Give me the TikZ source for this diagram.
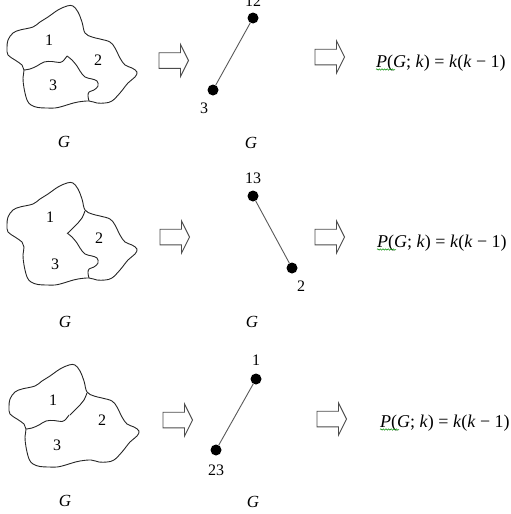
\documentclass[tikz,border=0pt]{standalone}
\usepackage{fontspec}
\setmainfont{Liberation Serif}
\usetikzlibrary{decorations.pathmorphing}

% Outline of the map and its three inner borders, in local coordinates
\newcommand\mapborder{%
  \draw[outline] plot[smooth cycle, tension=0.6] coordinates {
    (24,70) (23,78) (24,88) (27,100) (31,105) (38,107.5) (47,108) (55,108)
    (62,106.5) (70,104) (78,102) (89,101) (97,103) (105,103) (112,101)
    (120,93) (128,83) (135,77) (137,72) (132,68) (125,65) (120,58)
    (115,48) (110,42) (100,39) (92,37) (85,33) (82,22) (78,12) (73,6)
    (67,6) (58,10) (48,17) (40,22) (33,27) (20,30) (13,33) (8,40) (7,48)
    (8,55) (15,60) (22,65)};}
\newcommand\borderonethree{%
  \draw[outline] plot[smooth, tension=0.6] coordinates {
    (24,70) (30,69) (37,66) (44,62) (52,61.5) (60,62.5) (64,60) (67,56)};}
\newcommand\borderthreetwo{%
  \draw[outline] plot[smooth, tension=0.6] coordinates {
    (67,56) (72,60) (77,66) (80,71) (85,77) (92,79) (97,81) (98,86)
    (94,90) (89,92) (88,96) (89,101)};}
\newcommand\borderonetwo{%
  \draw[outline] plot[smooth, tension=0.6] coordinates {
    (85,34) (82,41) (78,46) (73,51) (68,56)};}

\begin{document}
\begin{tikzpicture}[x=1pt,y=-1pt,
  outline/.style={draw=black!85, line width=0.9pt, line join=round},
  vertex/.style={circle, fill=black, inner sep=0pt, minimum size=11pt},
  numtext/.style={font=\fontsize{16}{16}\selectfont, inner sep=0pt},
  glabel/.style={font=\fontsize{17}{17}\selectfont\itshape, inner sep=0pt},
  formula/.style={font=\fontsize{18}{18}\selectfont, inner sep=0pt, anchor=base west},
  edge/.style={draw=black!65, line width=0.9pt},
  blockarrow/.style={draw=black!70, line width=0.9pt, fill=white, line join=miter},
  squiggle/.style={draw=green!55!black, line width=0.5pt, decorate,
    decoration={snake, amplitude=0.7pt, segment length=2.6pt}},
  pics/blockarrow/.style={code={
    \draw[blockarrow] (0,-7.8) -- (21.5,-7.8) -- (21.5,-16) -- (29.5,0)
      -- (21.5,16) -- (21.5,7.8) -- (0,7.8) -- cycle;}},
]
\useasboundingbox (0,0) rectangle (511,514);

% ---------- first row: regions 1 and 2 merged ----------
\begin{scope}
  \mapborder \borderonethree \borderthreetwo
\end{scope}
\node[numtext] (r1a) at (49,40) {1};
\node[numtext] (r1b) at (98,60) {2};
\node[numtext] (r1c) at (53,85) {3};
\node[glabel] (r1g) at (64,142) {G};
\pic at (159,60.5) {blockarrow};
\node[vertex] (a12) at (253,18) {};
\node[vertex] (a3) at (213,90) {};
\draw[edge] (a12) -- (a3);
\node[numtext] (la12) at (253,1) {12};
\node[numtext] (la3) at (204,108) {3};
\node[glabel] (g1) at (251,143) {G};
\pic at (315,57) {blockarrow};
\node[formula] (f1) at (376,67) {\textit{P}(\textit{G}; \textit{k}) = \textit{k}(\textit{k} − 1)};
\draw[squiggle] ([yshift=-2.5pt]f1.base west) -- ++(19,0);

% ---------- second row: regions 1 and 3 merged ----------
\begin{scope}[shift={(0,177)}]
  \mapborder \borderonetwo \borderthreetwo
\end{scope}
\node[numtext] (r2a) at (50,217) {1};
\node[numtext] (r2b) at (99,238) {2};
\node[numtext] (r2c) at (55,264) {3};
\node[glabel] (r2g) at (65,322) {G};
\pic at (160,237) {blockarrow};
\node[vertex] (b13) at (253,196) {};
\node[vertex] (b2) at (292,268) {};
\draw[edge] (b13) -- (b2);
\node[numtext] (lb13) at (253,178) {13};
\node[numtext] (lb2) at (301,286) {2};
\node[glabel] (g2) at (252,322) {G};
\pic at (315,237) {blockarrow};
\node[formula] (f2) at (377,247) {\textit{P}(\textit{G}; \textit{k}) = \textit{k}(\textit{k} − 1)};
\draw[squiggle] ([yshift=-2.5pt]f2.base west) -- ++(19,0);

% ---------- third row: regions 2 and 3 merged ----------
\begin{scope}[shift={(2,359)}]
  \mapborder \borderonethree \borderonetwo
\end{scope}
\node[numtext] (r3a) at (53,400) {1};
\node[numtext] (r3b) at (102,420) {2};
\node[numtext] (r3c) at (57,445) {3};
\node[glabel] (r3g) at (65,501) {G};
\pic at (163,420) {blockarrow};
\node[vertex] (c1) at (256,379) {};
\node[vertex] (c23) at (216,450) {};
\draw[edge] (c1) -- (c23);
\node[numtext] (lc1) at (256,360) {1};
\node[numtext] (lc23) at (216,470) {23};
\node[glabel] (g3) at (253,502) {G};
\pic at (317,419) {blockarrow};
\node[formula] (f3) at (380,427) {\textit{P}(\textit{G}; \textit{k}) = \textit{k}(\textit{k} − 1)};
\draw[squiggle] ([yshift=-2.5pt]f3.base west) -- ++(19,0);
\end{tikzpicture}
\end{document}
